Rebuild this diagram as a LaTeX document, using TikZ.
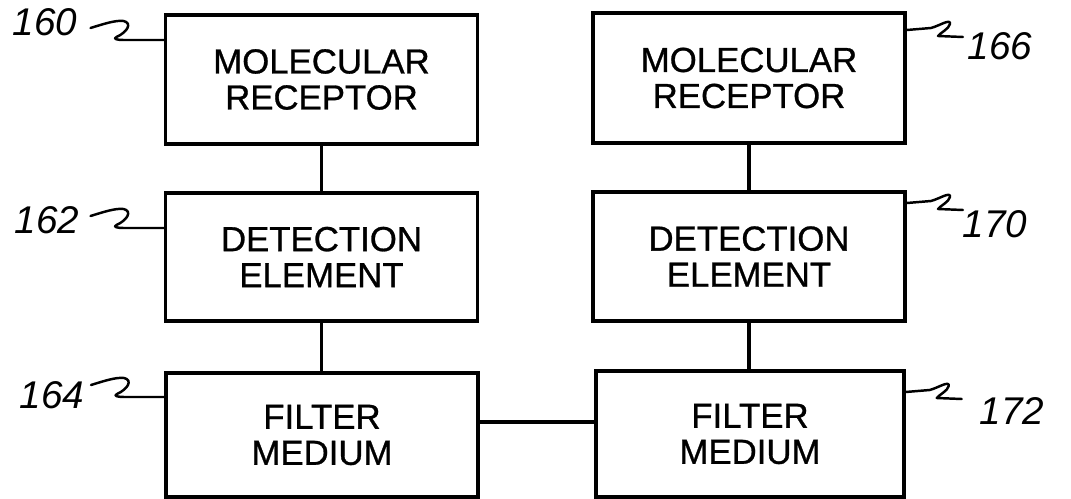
\documentclass[tikz,border=0pt]{standalone}
\usepackage{fontspec}
\setmainfont{Liberation Sans}
\usetikzlibrary{calc}
\begin{document}
\begin{tikzpicture}[x=0.02cm,y=-0.02cm,
  blk/.style={draw,line width=2pt,minimum width=6.25cm,inner sep=0pt,
    align=center,font=\fontsize{19.8}{20.5}\selectfont\addfontfeature{FakeBold=0.8}},
  conn/.style={line width=1.8pt},
  lead/.style={line width=1.4pt,line cap=round,line join=round},
  refnum/.style={font=\itshape\fontsize{22}{22}\selectfont,inner sep=0pt},
  leftlead/.pic={\draw[lead] (-73,-12) .. controls (-60,-16) and (-48,-20) .. (-40,-19)
     .. controls (-31,-17) and (-36,-8) .. (-47,-3)
     .. controls (-51,-1) and (-46,0) .. (-40,0) -- (0,0);},
  rightlead/.pic={\draw[lead] (0,0) -- (24,-2) .. controls (32,-4) and (44,-12) .. (43,-6)
     .. controls (42,-1) and (33,3) .. (31,6) -- (56,7);}
]
\useasboundingbox (0,0) rectangle (1071,499);

% left column
\node[blk,minimum height=2.58cm] (b160) at (321.5,79.5) {MOLECULAR\\RECEPTOR};
\node[blk,minimum height=2.56cm] (b162) at (321.5,257) {DETECTION\\ELEMENT};
\node[blk,minimum height=2.48cm] (b164) at (322,435) {FILTER\\MEDIUM};

% right column
\node[blk,minimum height=2.6cm] (b166) at (749,78) {MOLECULAR\\RECEPTOR};
\node[blk,minimum height=2.58cm] (b170) at (749,256.5) {DETECTION\\ELEMENT};
\node[blk,minimum height=2.52cm,minimum width=6.16cm] (b172) at (750,434) {FILTER\\MEDIUM};

% connectors
\draw[conn] (b160.south) -- (b162.north);
\draw[conn] (b162.south) -- (b162.south |- b164.north);
\draw[conn] (b166.south) -- (b170.north);
\draw[conn] (b170.south) -- (b170.south |- b172.north);
\draw[conn] ([yshift=0.26cm]b164.east) -- ([yshift=0.26cm]b164.east -| b172.west);

% reference numerals
\node[refnum] (r160) at (45,22) {160};
\node[refnum] (r162) at (47,220) {162};
\node[refnum] (r164) at (52,395) {164};
\node[refnum] (r166) at (1000,46) {166};
\node[refnum] (r170) at (995,224) {170};
\node[refnum] (r172) at (1012,411) {172};

% leader lines
\pic at ($(b160.west)+(0,-39.5)$) {leftlead};
\pic at ($(b162.west)+(0,-29)$) {leftlead};
\pic at ($(b164.west)+(0,-38)$) {leftlead};
\pic at ($(b166.east)+(0,-48)$) {rightlead};
\pic at ($(b170.east)+(0,-53.5)$) {rightlead};
\pic at ($(b172.east)+(0,-42)$) {rightlead};
\end{tikzpicture}
\end{document}
